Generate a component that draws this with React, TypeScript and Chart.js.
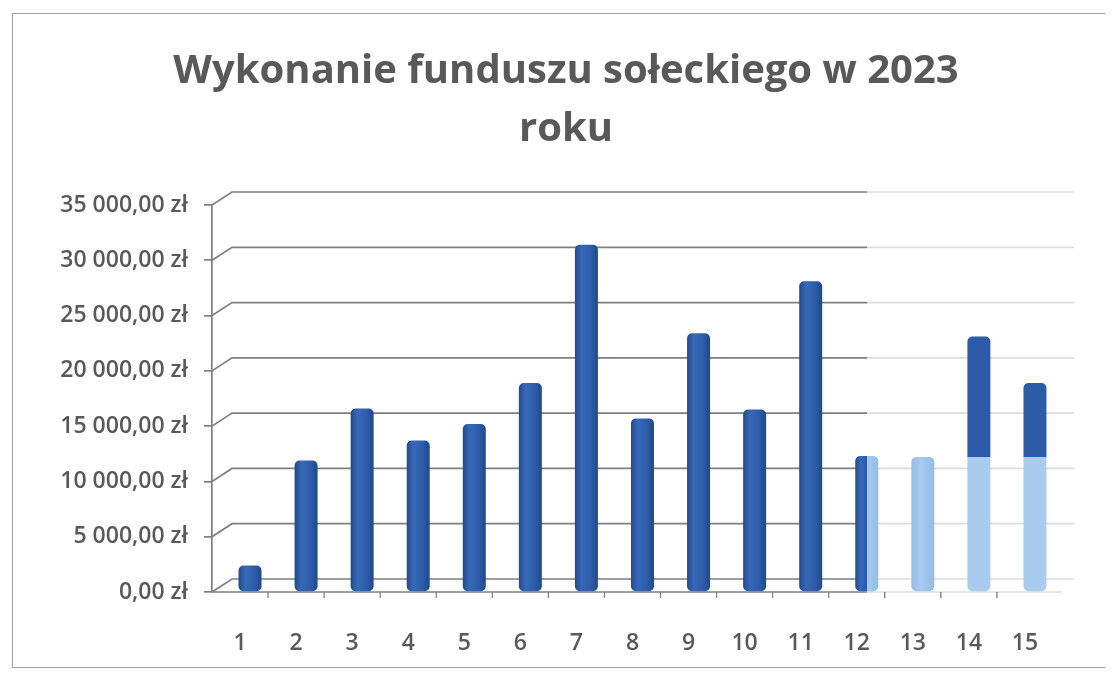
import React, { useEffect, useRef } from "react";
import { Chart, registerables } from "chart.js";

Chart.register(...registerables);

// ---- data ----
const categories = ["1", "2", "3", "4", "5", "6", "7", "8", "9", "10", "11", "12", "13", "14", "15"];
const values = [2400, 11900, 16600, 13700, 15200, 18900, 31400, 15700, 23400, 16500, 28100, 12300, 12200, 23100, 18900];
const yTicks = [0, 5000, 10000, 15000, 20000, 25000, 30000, 35000];
const titleLines = ["Wykonanie funduszu sołeckiego w 2023", "roku"];

// ---- styling / layout constants ----
const DARK = "#2c5ca8";
const DARK_EDGE = "#1f4689";
const DARK_HI = "#3669b8";
const LIGHT = "#a9cbee";
const LIGHT_EDGE = "#94bce6";
const GRID_DARK = "#7f7f7f";
const GRID_LIGHT = "#dcdcdc";
const TEXT = "#595959";
const FADED_SPLIT_LEVEL = 12200; // scan fading on the right side
const X_MIN = 0.322;
const X_END = 15.55; // visible end of the floor
const X_MAX = 16.374; // scale end (beyond visible floor, keeps title centred)

function fmt(v: number): string {
  const [i, d] = v.toFixed(2).split(".");
  return i.replace(/\B(?=(\d{3})+(?!\d))/g, " ") + "," + d + " zł";
}

const wallPlugin = {
  id: "wall3d",
  beforeDatasetsDraw(chart: any) {
    const { ctx, chartArea, scales } = chart;
    const { left, bottom } = chartArea;
    const x = scales.x;
    const y = scales.y;
    const right = x.getPixelForValue(X_END);
    const dx = 20;
    const dy = -13;
    const split = x.getPixelForValue(12);
    const grad = ctx.createLinearGradient(left, 0, right + dx, 0);
    const t = Math.min(1, Math.max(0, (split - left) / (right + dx - left)));
    grad.addColorStop(0, GRID_DARK);
    grad.addColorStop(t, GRID_DARK);
    grad.addColorStop(t, GRID_LIGHT);
    grad.addColorStop(1, GRID_LIGHT);
    ctx.save();
    ctx.lineWidth = 1.7;
    ctx.strokeStyle = grad;
    for (const v of yTicks) {
      const py = y.getPixelForValue(v);
      ctx.beginPath();
      ctx.moveTo(left, py);
      ctx.lineTo(left + dx, py + dy);
      ctx.lineTo(right + 8, py + dy);
      ctx.stroke();
    }
    // front floor edge (x axis)
    ctx.beginPath();
    ctx.moveTo(left, bottom);
    ctx.lineTo(right - 4, bottom);
    ctx.stroke();
    // category tick marks
    ctx.lineWidth = 1.2;
    for (let k = 1; k < categories.length; k++) {
      const px = x.getPixelForValue(k + 0.5) - dx / 2;
      ctx.strokeStyle = px < split ? GRID_DARK : "#666";
      ctx.beginPath();
      ctx.moveTo(px, bottom);
      ctx.lineTo(px, bottom + 6);
      ctx.stroke();
    }
    ctx.restore();
  },
};

function barColor(c: any) {
  const chart = c.chart;
  if (!chart.chartArea || c.type !== "data") return DARK;
  const i = c.dataIndex;
  const xs = chart.scales.x;
  const ys = chart.scales.y;
  const g2d = chart.ctx;
  const cx = xs.getPixelForValue(i + 1);
  const half = 12;
  if (i === 11) {
    const g = g2d.createLinearGradient(cx - half, 0, cx + half, 0);
    g.addColorStop(0, DARK_EDGE);
    g.addColorStop(0.25, DARK_HI);
    g.addColorStop(0.5, DARK);
    g.addColorStop(0.5, LIGHT);
    g.addColorStop(1, LIGHT_EDGE);
    return g;
  }
  if (i === 12) {
    const g = g2d.createLinearGradient(cx - half, 0, cx + half, 0);
    g.addColorStop(0, LIGHT_EDGE);
    g.addColorStop(0.4, LIGHT);
    g.addColorStop(1, LIGHT_EDGE);
    return g;
  }
  if (i >= 13) {
    const y0 = ys.getPixelForValue(0);
    const yt = ys.getPixelForValue(values[i]);
    const ys2 = ys.getPixelForValue(FADED_SPLIT_LEVEL);
    const t = Math.min(1, Math.max(0, (y0 - ys2) / (y0 - yt)));
    const g = g2d.createLinearGradient(0, y0, 0, yt);
    g.addColorStop(0, LIGHT);
    g.addColorStop(t, LIGHT);
    g.addColorStop(t, DARK);
    g.addColorStop(1, DARK);
    return g;
  }
  const g = g2d.createLinearGradient(cx - half, 0, cx + half, 0);
  g.addColorStop(0, DARK_EDGE);
  g.addColorStop(0.3, DARK_HI);
  g.addColorStop(0.7, DARK);
  g.addColorStop(1, DARK_EDGE);
  return g;
}

export default function App() {
  const ref = useRef<HTMLCanvasElement | null>(null);

  useEffect(() => {
    if (!ref.current) return;
    const chart = new Chart(ref.current, {
      type: "bar",
      data: {
        datasets: [
          {
            label: "Wykonanie",
            data: values.map((v, i) => ({ x: i + 1, y: v })),
            backgroundColor: barColor as any,
            borderWidth: 0,
            borderRadius: 5,
            borderSkipped: false,
            barPercentage: 0.41,
            categoryPercentage: 1,
          },
        ],
      },
      plugins: [wallPlugin],
      options: {
        responsive: false,
        animation: false,
        layout: { padding: { left: 12, right: 1, top: 0, bottom: 0 } },
        plugins: {
          legend: { display: false },
          tooltip: { enabled: false },
          title: {
            display: true,
            text: titleLines,
            color: TEXT,
            font: { family: "'Open Sans'", size: 40, weight: "bold", lineHeight: 1.45 },
            padding: { top: 35, bottom: 46 },
          },
        },
        scales: {
          x: {
            type: "linear",
            offset: false,
            min: X_MIN,
            max: X_MAX,
            afterBuildTicks: (scale: any) => {
              scale.ticks = categories.map((_, i) => ({ value: i + 1 }));
            },
            afterFit: (scale: any) => {
              scale.height = 83;
            },
            grid: { display: false },
            border: { display: false },
            ticks: {
              callback: (_v: any, idx: number) => categories[idx] ?? "",
              labelOffset: -10,
              padding: 30,
              maxRotation: 0,
              autoSkip: false,
              color: TEXT,
              font: { family: "'Open Sans'", size: 23, weight: 600 },
            },
          },
          y: {
            min: 0,
            max: 35000,
            afterBuildTicks: (scale: any) => {
              scale.ticks = yTicks.map((v) => ({ value: v }));
            },
            afterFit: (scale: any) => {
              scale.width = 192;
            },
            grid: { drawOnChartArea: false, drawTicks: true, tickLength: 8, color: GRID_DARK, lineWidth: 1.7 },
            border: { display: true, color: GRID_DARK, width: 1.7 },
            ticks: {
              callback: (v: any) => fmt(Number(v)),
              padding: 16,
              color: TEXT,
              font: { family: "'Open Sans'", size: 23, weight: 600 },
            },
          },
        },
      },
    } as any);
    return () => chart.destroy();
  }, []);

  return (
    <div style={{ position: "relative", width: 1105, height: 667, overflow: "hidden", background: "#fff" }}>
      <div
        style={{
          position: "absolute",
          left: 4,
          top: 5,
          width: 1300,
          height: 655,
          border: "1.5px solid #a0a0a0",
          boxSizing: "border-box",
        }}
      />
      <canvas ref={ref} width={1105} height={667} style={{ position: "absolute", left: 0, top: 0 }} />
    </div>
  );
}
